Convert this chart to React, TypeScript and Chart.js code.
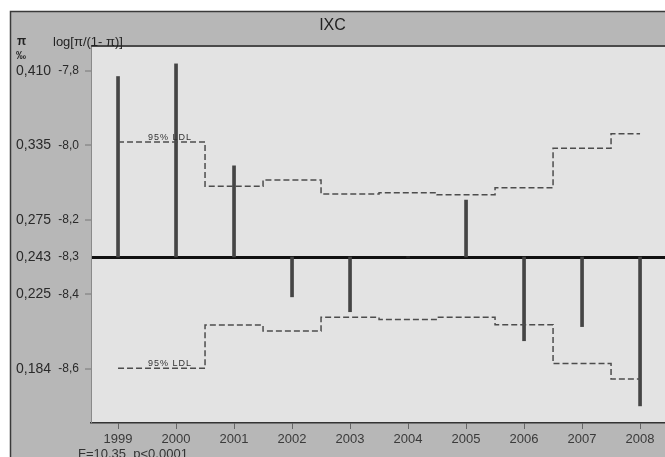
import React, { useEffect, useRef } from "react";
import { Chart, registerables } from "chart.js";

Chart.register(...registerables);

const years = [1999, 2000, 2001, 2002, 2003, 2004, 2005, 2006, 2007, 2008];
const logitValues = [-7.815, -7.781, -8.055, -8.407, -8.447, -8.3, -8.147, -8.525, -8.487, -8.7];
const upperLDL = [-7.991, -7.991, -8.11, -8.093, -8.131, -8.127, -8.133, -8.114, -8.008, -7.969];
const lowerLDL = [-8.599, -8.599, -8.483, -8.499, -8.462, -8.468, -8.462, -8.482, -8.586, -8.628];
const baseline = -8.3;
const yTickValues = [-7.8, -8.0, -8.2, -8.3, -8.4, -8.6];
const logitLabels = ["-7,8", "-8,0", "-8,2", "-8,3", "-8,4", "-8,6"];
const piLabels = ["0,410", "0,335", "0,275", "0,243", "0,225", "0,184"];
const title = "IXC";
const ldlLabel = "95% LDL";
const footer = "F=10,35  p<0,0001";

const FONT = "'Liberation Sans', Arial, sans-serif";

const framePlugin = {
  id: "frame",
  beforeDraw(chart: any) {
    const { ctx, width, height, chartArea } = chart;
    ctx.save();
    ctx.fillStyle = "#ffffff";
    ctx.fillRect(0, 0, width, height);
    ctx.fillStyle = "#b7b7b7";
    ctx.fillRect(10, 11, width - 10, height - 11);
    ctx.strokeStyle = "#3a3a3a";
    ctx.lineWidth = 1.5;
    ctx.beginPath();
    ctx.moveTo(10.5, height);
    ctx.lineTo(10.5, 11.5);
    ctx.lineTo(width, 11.5);
    ctx.stroke();
    ctx.fillStyle = "#e3e3e3";
    ctx.fillRect(chartArea.left, chartArea.top, chartArea.right - chartArea.left, chartArea.bottom - chartArea.top);
    ctx.restore();
  },
  afterDraw(chart: any) {
    const { ctx, chartArea, scales } = chart;
    ctx.save();
    ctx.strokeStyle = "#4a4a4a";
    ctx.lineWidth = 2;
    ctx.beginPath();
    ctx.moveTo(chartArea.left, chartArea.top);
    ctx.lineTo(chartArea.right, chartArea.top);
    ctx.stroke();
    ctx.fillStyle = "#222";
    ctx.textBaseline = "middle";
    ctx.textAlign = "left";
    ctx.font = `bold 12px ${FONT}`;
    ctx.fillText("π", 17, 42);
    ctx.font = `13px ${FONT}`;
    ctx.fillText("log[π/(1- π)]", 53, 42);
    ctx.font = `bold 10px ${FONT}`;
    ctx.fillText("‰", 16, 56);
    const x = scales.x, y = scales.y;
    ctx.font = `9px ${FONT}`;
    (ctx as any).letterSpacing = "1px";
    ctx.fillStyle = "#333";
    ctx.textBaseline = "bottom";
    ctx.fillText(ldlLabel, x.getPixelForValue(years[0]) + 30, y.getPixelForValue(upperLDL[0]) - 0.5);
    ctx.fillText(ldlLabel, x.getPixelForValue(years[0]) + 30, y.getPixelForValue(lowerLDL[0]) - 0.5);
    (ctx as any).letterSpacing = "0px";
    ctx.font = `13px ${FONT}`;
    ctx.fillStyle = "#333";
    ctx.textBaseline = "top";
    ctx.fillText(footer, 78, 448);
    ctx.restore();
  },
};

export default function App() {
  const ref = useRef<HTMLCanvasElement | null>(null);
  useEffect(() => {
    document.body.style.margin = "0";
    const canvas = ref.current!;
    const setTicks = (values: number[]) => (scale: any) => {
      scale.ticks = values.map((v) => ({ value: v }));
    };
    const chart = new Chart(canvas, {
      type: "bar",
      data: {
        datasets: [
          {
            type: "line",
            data: years.map((yr, i) => ({ x: yr, y: upperLDL[i] })),
            borderColor: "#4d4d4d",
            borderWidth: 1.5,
            borderDash: [6, 3],
            stepped: "middle",
            pointRadius: 0,
            fill: false,
            yAxisID: "y",
          } as any,
          {
            type: "line",
            data: years.map((yr, i) => ({ x: yr, y: lowerLDL[i] })),
            borderColor: "#4d4d4d",
            borderWidth: 1.5,
            borderDash: [6, 3],
            stepped: "middle",
            pointRadius: 0,
            fill: false,
            yAxisID: "y",
          } as any,
          {
            type: "bar",
            data: years.map((yr, i) => ({ x: yr, y: [baseline, logitValues[i]] })),
            backgroundColor: "#454545",
            borderWidth: 0,
            barThickness: 3,
            yAxisID: "y",
          } as any,
        ],
      },
      options: {
        animation: false,
        responsive: false,
        events: [],
        layout: { padding: { top: 11, left: 0, right: 0, bottom: 0 } },
        plugins: {
          legend: { display: false },
          tooltip: { enabled: false },
          title: {
            display: true,
            text: title,
            color: "#222",
            font: { family: FONT, size: 16, weight: "normal" as any },
            padding: { top: 5, bottom: 10.8 },
          },
        },
        scales: {
          x: {
            type: "linear",
            offset: false,
            min: 1998.534,
            max: 2008.43,
            afterBuildTicks: setTicks(years),
            afterFit: (scale: any) => {
              scale.height = 34;
              scale.paddingLeft = 0;
              scale.paddingRight = 0;
            },
            ticks: {
              color: "#3a3a3a",
              font: { family: FONT, size: 13 },
              padding: 3,
              maxRotation: 0,
              autoSkip: false,
              callback: (v: any) => String(v),
            },
            grid: { display: true, offset: false, drawOnChartArea: false, drawTicks: true, tickLength: 6, tickColor: "#666", tickWidth: 1 },
            border: { display: true, color: "#333", width: 1.5 },
          },
          y: {
            type: "linear",
            position: "left",
            weight: 0,
            min: -8.746,
            max: -7.733,
            afterBuildTicks: setTicks(yTickValues),
            afterFit: (scale: any) => {
              scale.width = 35;
              scale.paddingTop = 0;
              scale.paddingBottom = 0;
            },
            ticks: {
              color: "#2a2a2a",
              font: { family: FONT, size: 12 },
              padding: 6,
              autoSkip: false,
              callback: (_v: any, i: number) => logitLabels[i],
            },
            grid: {
              display: true,
              drawOnChartArea: true,
              drawTicks: true,
              tickLength: 6,
              tickColor: (c: any) => (c.tick && c.tick.value === baseline ? "rgba(0,0,0,0)" : "#777"),
              tickWidth: 1,
              color: (c: any) => (c.tick && c.tick.value === baseline ? "#111" : "rgba(0,0,0,0)"),
              lineWidth: (c: any) => (c.tick && c.tick.value === baseline ? 3 : 0),
            },
            border: { display: true, color: "#8a8a8a", width: 1 },
          },
          y2: {
            type: "linear",
            position: "left",
            weight: 1,
            min: -8.746,
            max: -7.733,
            afterBuildTicks: setTicks(yTickValues),
            afterFit: (scale: any) => {
              scale.width = 56;
              scale.paddingTop = 0;
              scale.paddingBottom = 0;
            },
            ticks: {
              color: "#2a2a2a",
              font: { family: FONT, size: 14 },
              padding: 5,
              autoSkip: false,
              callback: (_v: any, i: number) => piLabels[i],
            },
            grid: { display: false, drawTicks: false },
            border: { display: false },
          },
        },
      } as any,
      plugins: [framePlugin],
    });
    return () => chart.destroy();
  }, []);
  return (
    <div style={{ width: 665, height: 457 }}>
      <canvas ref={ref} width={665} height={457} style={{ display: "block", width: 665, height: 457 }} />
    </div>
  );
}
